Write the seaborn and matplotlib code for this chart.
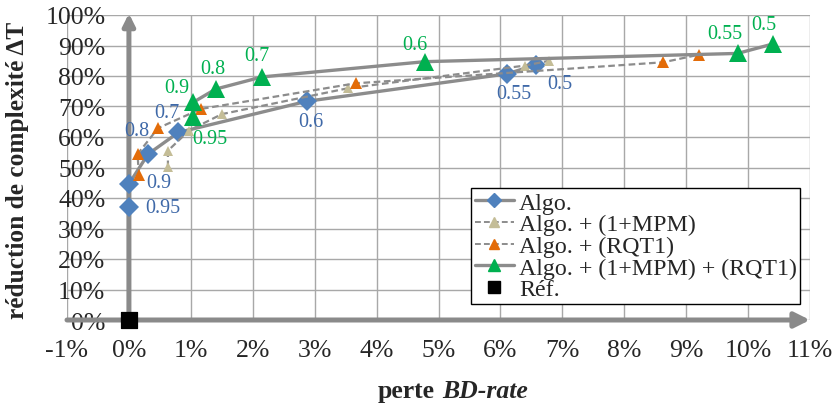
import matplotlib
matplotlib.use("Agg")
import matplotlib.pyplot as plt
from matplotlib.lines import Line2D
import seaborn as sns
import pandas as pd

# ---------------- data ----------------
algo_x = [0.00, 0.00, 0.31, 0.80, 2.87, 6.11, 6.58]
algo_y = [36.9, 44.6, 54.4, 61.5, 71.7, 80.7, 83.7]
algo_lbl = ["0.95", "0.9", "0.8", "0.7", "0.6", "0.55", "0.5"]

mpm_x = [0.63, 0.63, 0.97, 1.50, 3.54, 6.39, 6.79]
mpm_y = [50.1, 55.5, 62.1, 67.5, 76.0, 83.4, 85.0]

rqt_x = [0.16, 0.14, 0.47, 1.16, 3.66, 8.63, 9.21]
rqt_y = [47.5, 54.4, 62.9, 69.2, 77.6, 84.5, 87.0]

both_x = [1.04, 1.04, 1.40, 2.15, 4.78, 9.83, 10.40]
both_y = [66.5, 71.4, 75.7, 79.7, 84.7, 87.4, 90.5]
both_lbl = ["0.95", "0.9", "0.8", "0.7", "0.6", "0.55", "0.5"]

ref_x = [0.0]
ref_y = [0.0]

series_names = ["Algo.", "Algo. + (1+MPM)", "Algo. + (RQT1)",
                "Algo. + (1+MPM) + (RQT1)", "Réf."]
x_ticks = list(range(-1, 12))
y_ticks = list(range(0, 101, 10))

# ---------------- style ----------------
sns.set_style("white")
plt.rcParams["font.family"] = ["Liberation Serif", "DejaVu Serif"]

BLUE = "#4F81BD"
BLUE_TXT = "#3F69A8"
TAN = "#C4BD97"
ORANGE = "#E36C09"
GREEN = "#00B050"
LINE = "#8C8C8C"
GRID = "#A8A8A8"

fig = plt.figure(figsize=(8.36, 4.10), dpi=100)
L, R, T, B = 67, 810, 16, 321
ax = fig.add_axes([L / 836, 1 - B / 410, (R - L) / 836, (B - T) / 410])

ax.set_xlim(-1, 11)
ax.set_ylim(0, 100)
ax.set_xticks(x_ticks)
ax.set_yticks(y_ticks)
ax.set_xticklabels([f"{v}%" for v in x_ticks])
ax.set_yticklabels([f"{v}%" for v in y_ticks])
ax.grid(True, color=GRID, lw=1.0)
ax.set_axisbelow(True)
for s in ax.spines.values():
    s.set_visible(False)
ax.spines["left"].set_position(("data", 0))
ax.tick_params(axis="both", length=0, labelsize=18.5)
ax.tick_params(axis="y", pad=17)
ax.tick_params(axis="x", pad=14)

# axes arrows
ax.annotate("", xy=(11, 0), xytext=(-1, 0),
            arrowprops=dict(arrowstyle="-|>,head_length=0.9,head_width=0.45",
                            color="#8A8A8A", lw=3.6, shrinkA=0, shrinkB=0),
            annotation_clip=False, zorder=3)
ax.annotate("", xy=(0, 100.5), xytext=(0, -0.5),
            arrowprops=dict(arrowstyle="-|>,head_length=0.7,head_width=0.35",
                            color="#8A8A8A", lw=3.6, shrinkA=0, shrinkB=0),
            annotation_clip=False, zorder=3)

def draw(x, y, marker, mcolor, ms, lw, dashes=None):
    df = pd.DataFrame({"x": x, "y": y})
    kw = dict(data=df, x="x", y="y", ax=ax, sort=False, estimator=None,
              color=LINE, lw=lw, marker=marker, markersize=ms,
              markerfacecolor=mcolor, markeredgecolor=mcolor,
              markeredgewidth=0, zorder=5, legend=False)
    if dashes is not None:
        kw["dashes"] = dashes
    else:
        kw["linestyle"] = "-"
    sns.lineplot(**kw)

draw(algo_x, algo_y, "D", BLUE, 10.5, 2.4)
draw(mpm_x, mpm_y, "^", TAN, 7.5, 1.6, dashes=(3, 1.6))
draw(rqt_x, rqt_y, "^", ORANGE, 8, 1.6, dashes=(3, 1.6))
draw(both_x, both_y, "^", GREEN, 12.5, 2.4)
sns.scatterplot(x=ref_x, y=ref_y, ax=ax, marker="s", s=120, color="black",
                edgecolor="black", zorder=6, legend=False, clip_on=False)
ax.set_xlabel("")
ax.set_ylabel("")

# point labels
algo_off = [(34, 0), (30, 1), (-11, 23.5), (-12, 20), (4, -20), (7, -19.5), (23, -19)]
both_off = [(17, -21), (-16, 15), (-3, 21), (-5, 21), (-10, 17), (-13, 20), (-9, 19.5)]
for xv, yv, t, o in zip(algo_x, algo_y, algo_lbl, algo_off):
    ax.annotate(t, (xv, yv), xytext=o, textcoords="offset pixels",
                ha="center", va="center", color=BLUE_TXT, fontsize=14.5, zorder=7)
for xv, yv, t, o in zip(both_x, both_y, both_lbl, both_off):
    ax.annotate(t, (xv, yv), xytext=o, textcoords="offset pixels",
                ha="center", va="center", color=GREEN, fontsize=14.5, zorder=7,
                annotation_clip=False)

# legend
handles = [
    Line2D([], [], color=LINE, lw=2.4, marker="D", ms=7, mfc=BLUE, mec=BLUE),
    Line2D([], [], color=LINE, lw=1.4, ls=(0, (3, 1.6)), marker="^", ms=7, mfc=TAN, mec=TAN),
    Line2D([], [], color=LINE, lw=1.4, ls=(0, (3, 1.6)), marker="^", ms=7, mfc=ORANGE, mec=ORANGE),
    Line2D([], [], color=LINE, lw=2.4, marker="^", ms=8, mfc=GREEN, mec=GREEN),
    Line2D([], [], color="none", marker="s", ms=8, mfc="black", mec="black"),
]
leg = ax.legend(handles, series_names, loc="lower left",
                bbox_to_anchor=((471 - L) / (R - L), (B - 305) / (B - T)),
                borderaxespad=0, fontsize=17.2, frameon=True, fancybox=False,
                handlelength=1.65, handletextpad=0.2, labelspacing=0.0,
                borderpad=0.15, framealpha=1)
leg.get_frame().set_edgecolor("black")
leg.get_frame().set_linewidth(1.0)
leg.set_zorder(10)

# axis titles
fig.text(18 / 836, 1 - 170 / 410, "réduction de complexité ΔT", rotation=90,
         ha="center", va="center", fontsize=18.3, fontweight="bold")
fig.text(435 / 836, 1 - 392 / 410, "perte", ha="right", va="center",
         fontsize=18.5, fontweight="bold")
fig.text(442 / 836, 1 - 392 / 410, "BD-rate", ha="left", va="center",
         fontsize=18.5, fontweight="bold", fontstyle="italic")

fig.savefig("out.png", dpi=100)
